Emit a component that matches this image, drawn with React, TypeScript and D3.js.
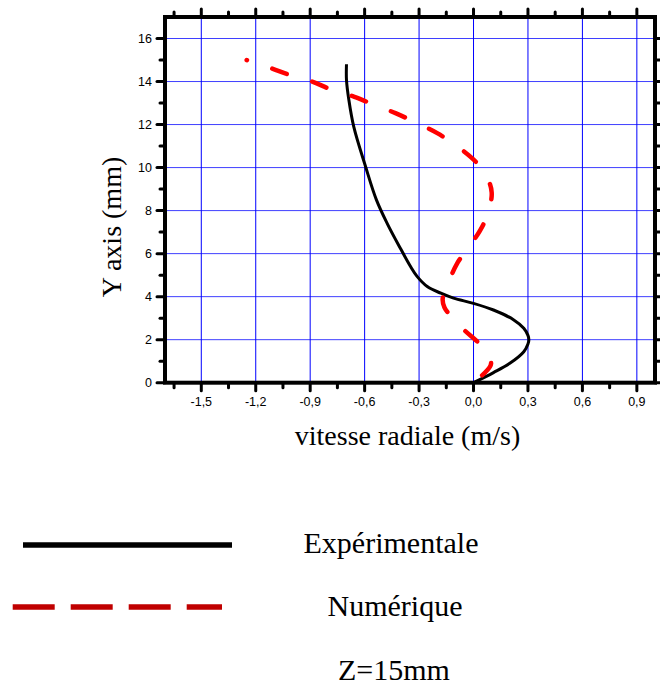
import React from "react";
import * as d3 from "d3";

const xTicks = [-1.5, -1.2, -0.9, -0.6, -0.3, 0.0, 0.3, 0.6, 0.9];
const xMinorTicks = [-1.65, -1.35, -1.05, -0.75, -0.45, -0.15, 0.15, 0.45, 0.75];
const yTicks = [0, 2, 4, 6, 8, 10, 12, 14, 16];
const yMinorTicks = [1, 3, 5, 7, 9, 11, 13, 15];

// Expérimentale: [vitesse radiale (m/s), Y (mm)]
const experimental: [number, number][] = [
  [-0.7, 14.8], [-0.7, 14.08], [-0.687, 13.15], [-0.66, 11.9], [-0.595, 10.05],
  [-0.535, 8.5], [-0.476, 7.41], [-0.4, 6.2], [-0.347, 5.4], [-0.31, 4.93],
  [-0.255, 4.47], [-0.18, 4.16], [-0.11, 3.93], [0.0, 3.69], [0.11, 3.38],
  [0.22, 2.93], [0.277, 2.53], [0.3, 2.2], [0.305, 2.0], [0.3, 1.8],
  [0.277, 1.44], [0.2, 0.9], [0.11, 0.47], [0.0, 0.0],
];

// Numérique
const numerical: [number, number][] = [
  [-1.25, 15.0], [-1.11, 14.6], [-1.01, 14.3], [-0.89, 14.0], [-0.79, 13.65],
  [-0.66, 13.3], [-0.56, 12.96], [-0.43, 12.53], [-0.33, 12.14], [-0.2, 11.6],
  [-0.1, 11.05], [0.02, 10.2], [0.085, 9.35], [0.1, 8.85], [0.094, 8.34],
  [0.057, 7.41], [-0.016, 6.4], [-0.09, 5.55], [-0.15, 4.4], [-0.17, 3.9],
  [-0.16, 3.5], [-0.07, 2.6], [0.04, 1.75], [0.09, 1.2], [0.094, 0.8], [0.0, 0.0],
];

const legendLabels = ["Expérimentale", "Numérique"];
const caption = "Z=15mm";

const fmt = (v: number) => v.toFixed(1).replace(".", ",");

const SANS = '"Liberation Sans", Arial, Helvetica, sans-serif';
const SERIF = '"Liberation Serif", "Times New Roman", Times, serif';

export default function App() {
  const W = 660;
  const H = 689;
  const left = 165, right = 655, top = 17, bottom = 382.7;
  const x = d3.scaleLinear().domain([-1.7, 1.0]).range([left, right]);
  const y = d3.scaleLinear().domain([0, 17]).range([bottom, top]);

  const line = d3
    .line<[number, number]>()
    .x((d) => x(d[0]))
    .y((d) => y(d[1]))
    .curve(d3.curveCatmullRom.alpha(0.5));

  return (
    <svg
      width={W}
      height={H}
      style={{ position: "absolute", left: 0, top: 0, background: "#fff" }}
    >
      {/* grid */}
      <g stroke="#0000ff" strokeWidth={1}>
        {xTicks.map((t) => (
          <line key={"gx" + t} x1={x(t)} x2={x(t)} y1={top} y2={bottom} />
        ))}
        {yTicks.filter((t) => t > 0).map((t) => (
          <line key={"gy" + t} x1={left} x2={right} y1={y(t)} y2={y(t)} opacity={0.75} />
        ))}
      </g>

      {/* curves */}
      <path d={line(experimental) || ""} fill="none" stroke="#000" strokeWidth={3} strokeLinejoin="round" />
      <path
        d={line(numerical) || ""}
        fill="none"
        stroke="#ff0000"
        strokeWidth={4.5}
        strokeLinecap="round"
        strokeDasharray="15.5 26.5"
        strokeDashoffset={15}
      />

      {/* ticks */}
      <g stroke="#000" strokeWidth={3} strokeLinecap="round">
        {xTicks.map((t) => (
          <g key={"xt" + t}>
            <line x1={x(t)} x2={x(t)} y1={bottom} y2={bottom + 8} />
            <line x1={x(t)} x2={x(t)} y1={top} y2={top - 8} />
          </g>
        ))}
        {xMinorTicks.map((t) => (
          <g key={"xm" + t}>
            <line x1={x(t)} x2={x(t)} y1={bottom} y2={bottom + 5} />
            <line x1={x(t)} x2={x(t)} y1={top} y2={top - 5} />
          </g>
        ))}
        {yTicks.map((t) => (
          <g key={"yt" + t}>
            <line x1={left} x2={left - 8} y1={y(t)} y2={y(t)} />
            <line x1={right} x2={right + 8} y1={y(t)} y2={y(t)} />
          </g>
        ))}
        {yMinorTicks.map((t) => (
          <g key={"ym" + t}>
            <line x1={left} x2={left - 5} y1={y(t)} y2={y(t)} />
            <line x1={right} x2={right + 5} y1={y(t)} y2={y(t)} />
          </g>
        ))}
      </g>

      {/* frame */}
      <rect
        x={left}
        y={top}
        width={right - left}
        height={bottom - top}
        fill="none"
        stroke="#000"
        strokeWidth={4}
      />

      {/* tick labels */}
      <g style={{ fontFamily: SANS, fontSize: "12.5px" }} fill="#000">
        {xTicks.map((t) => (
          <text key={"xl" + t} x={x(t)} y={406} textAnchor="middle">
            {fmt(t)}
          </text>
        ))}
        {yTicks.map((t) => (
          <text key={"yl" + t} x={152} y={y(t)} dy="0.36em" textAnchor="end">
            {t}
          </text>
        ))}
      </g>

      {/* axis titles */}
      <text
        x={407.5}
        y={445}
        textAnchor="middle"
        style={{ fontFamily: SERIF, fontSize: "28px" }}
        fill="#000"
      >
        vitesse radiale (m/s)
      </text>
      <text
        transform={`translate(121,227) rotate(-90)`}
        textAnchor="middle"
        style={{ fontFamily: SERIF, fontSize: "28px" }}
        fill="#000"
      >
        Y axis (mm)
      </text>

      {/* legend */}
      <line x1={23} x2={232} y1={545} y2={545} stroke="#000" strokeWidth={5.5} />
      <line
        x1={12.7}
        x2={222}
        y1={607}
        y2={607}
        stroke="#c00000"
        strokeWidth={5.5}
        strokeDasharray="42 16"
      />
      <g style={{ fontFamily: SERIF, fontSize: "30px" }} fill="#000" textAnchor="middle">
        <text x={391} y={553}>{legendLabels[0]}</text>
        <text x={395} y={616}>{legendLabels[1]}</text>
        <text x={394} y={680}>{caption}</text>
      </g>
    </svg>
  );
}
